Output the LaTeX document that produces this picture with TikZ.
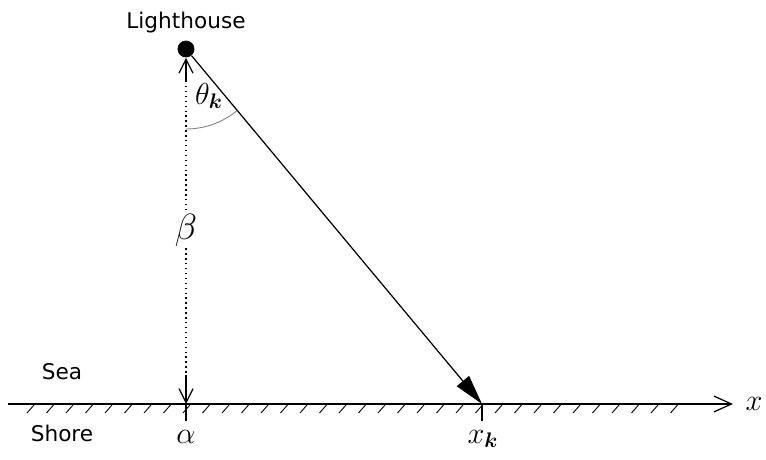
\documentclass[tikz,border=0pt]{standalone}
\usepackage{amsmath, amssymb}
\usepackage{fontspec}
\usepackage{tikz}
\usetikzlibrary{arrows.meta, positioning}
\newfontfamily\labelfont{DejaVu Sans}

\begin{document}
\begin{tikzpicture}[
            x=0.02cm, y=0.02cm,
            node distance=3pt,
            txt/.style={font=\labelfont\fontsize{12.3}{14}\selectfont, inner sep=1pt},
            sym/.style={font=\fontsize{17}{20}\selectfont, inner sep=1pt},
            beam/.style={line width=0.7pt, -{Triangle[length=17pt, width=9pt]}},
            baseline/.style={line width=0.7pt, -{Straight Barb[length=10pt, width=9pt]}},
            drop/.style={line width=0.7pt, dash pattern=on 0.8pt off 2pt},
            droptip/.style={line width=0.7pt, -{Straight Barb[length=8pt, width=8pt]}},
            tick/.style={line width=1.4pt},
            hatch/.style={line width=0.5pt}
        ]
            \useasboundingbox (0,0) rectangle (766,459);

            % points
            \node[circle, fill, inner sep=0pt, minimum size=9.6pt] (lighthouse) at (186,410) {};
            \coordinate (foot) at (186,55);
            \coordinate (hit) at (482,55);
            \coordinate (left) at (8,55);
            \coordinate (right) at (733,55);
            \coordinate (droptop) at (186,378);
            \coordinate (dropbottom) at (186,84);

            % shore line
            \foreach \hx in {27,46.5,...,680}
                \draw[hatch] (\hx,46) -- ++(7,8);
            \draw[baseline] (left) -- (right);
            \draw[tick] (foot) -- ++(0,-17);
            \draw[tick] (hit) -- ++(0,-17);

            % distance and beam
            \draw[drop] (droptop) -- (dropbottom);
            \draw[droptip] (droptop) -- (lighthouse);
            \draw[droptip] (dropbottom) -- (foot);
            \draw[beam] (lighthouse) -- (hit);
            \draw[gray, line width=0.5pt] (186,330) arc[start angle=-90, end angle=-50.2, radius=80];

            % labels
            \node[txt, above=3pt of lighthouse] (lighthouselabel) {Lighthouse};
            \node[sym] (theta) at (209,363) {$\theta_{\boldsymbol{k}}$};
            \node[sym, fill=white, font=\fontsize{21}{24}\selectfont] (beta) at (186,229) {$\beta$};
            \node[txt] (sea) at (62,87) {Sea};
            \node[txt] (shore) at (62,26) {Shore};
            \node[sym] (alpha) at (186,22) {$\alpha$};
            \node[sym] (xk) at (483,20) {$x_{\boldsymbol{k}}$};
            \node[sym, right=6pt of right] (xaxis) {$x$};
        \end{tikzpicture}
\end{document}
